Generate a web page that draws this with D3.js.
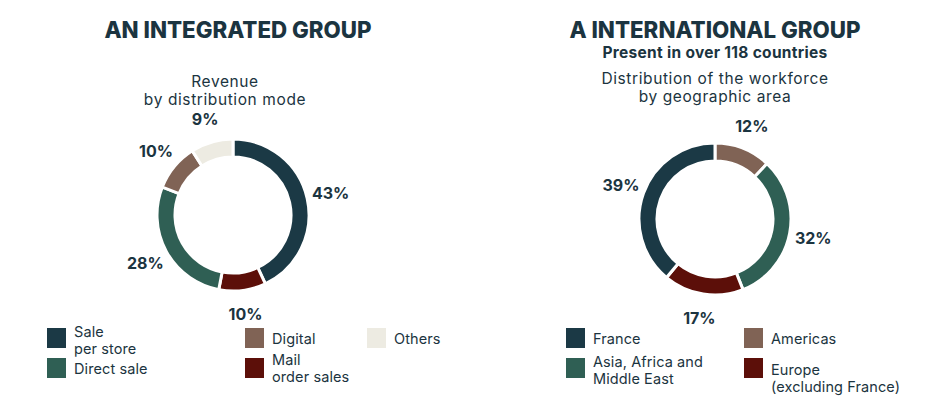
<!DOCTYPE html>
<html><head><meta charset="utf-8">
<script src="https://cdn.jsdelivr.net/npm/d3@7"></script>
<style>
body{margin:0;background:#fff;}
text{font-family:Inter,"Open Sans",sans-serif;}
</style></head>
<body><svg id="c" width="925" height="399"></svg>
<script>
// ---- data ----
const revenueCategories = ["Sale\nper store", "Mail\norder sales", "Direct sale", "Digital", "Others"];
const revenueValues = [43, 10, 28, 10, 9];
const revenueColors = ["#1b3945", "#5c0f09", "#2f5f54", "#806355", "#edebe2"];
const revenueLegendOrder = ["Sale\nper store", "Direct sale", "Digital", "Mail\norder sales", "Others"];

const workforceCategories = ["Americas", "Asia, Africa and\nMiddle East", "Europe\n(excluding France)", "France"];
const workforceValues = [12, 32, 17, 39];
const workforceColors = ["#806355", "#2f5f54", "#5c0f09", "#1b3945"];
const workforceLegendOrder = ["France", "Asia, Africa and\nMiddle East", "Americas", "Europe\n(excluding France)"];

const titles = ["AN INTEGRATED GROUP", "A INTERNATIONAL GROUP"];
const subtitleRight = "Present in over 118 countries";
const captions = [["Revenue", "by distribution mode"], ["Distribution of the workforce", "by geographic area"]];

// ---- drawing ----
const svg = d3.select("#c");
const dark = "#1b3440";

function donut(cx, cy, cats, vals, colors, labelR) {
  const g = svg.append("g").attr("transform", `translate(${cx},${cy})`);
  const pie = d3.pie().sort(null).value(d => d)(vals);
  const arc = d3.arc().innerRadius(58).outerRadius(76);
  g.selectAll("path").data(pie).join("path")
    .attr("d", arc).attr("fill", (d, i) => colors[i])
    .attr("stroke", "#fff").attr("stroke-width", 3);
  const la = d3.arc().innerRadius(labelR).outerRadius(labelR);
  g.selectAll("text.pct").data(pie).join("text").attr("class", "pct")
    .attr("x", d => la.centroid(d)[0]).attr("y", d => la.centroid(d)[1] + 6)
    .attr("text-anchor", "middle").attr("font-weight", 700).attr("font-size", 16)
    .attr("fill", dark).text(d => d.data + "%");
}

function legend(x0s, y0, order, cats, colors, extraDy) {
  order.forEach((name, k) => {
    const col = Math.floor(k / 2), row = k % 2;
    const x = x0s[col], y = y0 + row * 30;
    const ci = cats.indexOf(name);
    svg.append("rect").attr("x", x).attr("y", y).attr("width", 19).attr("height", 20)
      .attr("fill", colors[ci]);
    const lines = name.split("\n");
    const t = svg.append("text").attr("font-size", 14.5).attr("fill", dark).attr("letter-spacing", 0.1);
    const baseY = lines.length === 1 ? y + 16 : y + 9 + (extraDy[name] || 0);
    lines.forEach((l, j) => t.append("tspan").attr("x", x + 27).attr("y", baseY + j * 17).text(l));
  });
}

// titles
[[238, titles[0]], [715, titles[1]]].forEach(([x, t]) => {
  svg.append("text").attr("x", x).attr("y", 38).attr("text-anchor", "middle")
    .attr("font-size", 22.3).attr("font-weight", 800).attr("fill", dark).text(t);
});
svg.append("text").attr("x", 715).attr("y", 58).attr("text-anchor", "middle")
  .attr("font-size", 15.5).attr("font-weight", 700).attr("letter-spacing", 0.3).attr("fill", dark).text(subtitleRight);
captions[0].forEach((l, j) => svg.append("text").attr("x", 225).attr("y", 87 + j * 18)
  .attr("text-anchor", "middle").attr("font-size", 15.5).attr("letter-spacing", 0.6).attr("fill", dark).text(l));
captions[1].forEach((l, j) => svg.append("text").attr("x", 715).attr("y", 84 + j * 18)
  .attr("text-anchor", "middle").attr("font-size", 15.5).attr("letter-spacing", 0.6).attr("fill", dark).text(l));

donut(233, 215, revenueCategories, revenueValues, revenueColors, 100);
donut(715, 219, workforceCategories, workforceValues, workforceColors, 100);

legend([47, 245, 367], 328, revenueLegendOrder, revenueCategories, revenueColors, {"Mail\norder sales": -2});
legend([566, 744], 328, workforceLegendOrder, workforceCategories, workforceColors, {"Europe\n(excluding France)": 8, "Asia, Africa and\nMiddle East": 0});
</script></body></html>
